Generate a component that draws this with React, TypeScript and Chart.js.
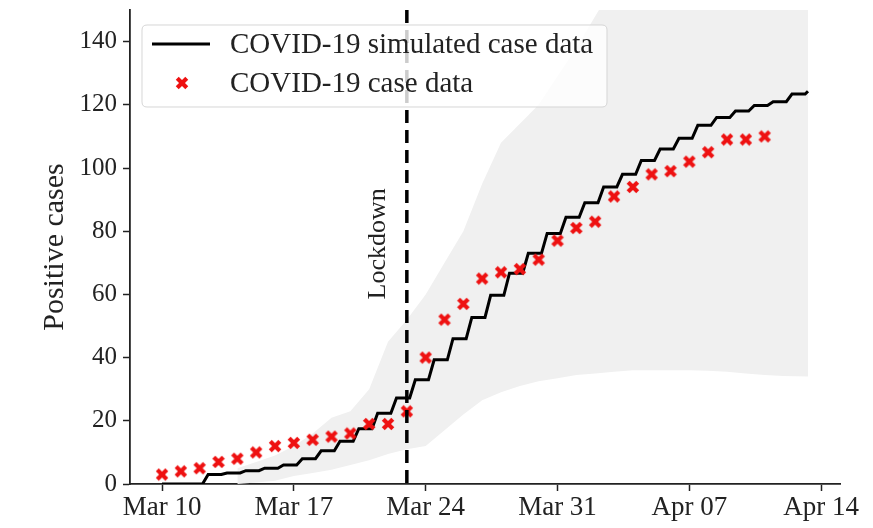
import React, { useEffect, useRef } from "react";
import { Chart, registerables } from "chart.js";

Chart.register(...registerables);

// ---- data (days counted from Mar 10) ----
const tickDays = [0, 7, 14, 21, 28, 35];
const tickLabels = ["Mar 10", "Mar 17", "Mar 24", "Mar 31", "Apr 07", "Apr 14"];
const yTickValues = [0, 20, 40, 60, 80, 100, 120, 140];

const caseDays = [0, 1, 2, 3, 4, 5, 6, 7, 8, 9, 10, 11, 12, 13, 14, 15, 16, 17, 18, 19, 20, 21, 22, 23, 24, 25, 26, 27, 28, 29, 30, 31, 32];
const caseValues = [3, 4, 5, 7, 8, 10, 12, 13, 14, 15, 16, 19, 19, 23, 40, 52, 57, 65, 67, 68, 71, 77, 81, 83, 91, 94, 98, 99, 102, 105, 109, 109, 110];

// simulated cumulative cases, one level per day
const simValues = [0, 0, 3, 3.5, 4.2, 5, 6, 8, 10.5, 13.5, 17.5, 22.4, 27.2, 33, 39.3, 46, 52.7, 59.7, 66.7, 73, 79.3, 84.4, 89, 94, 98, 102.4, 106, 109.4, 113.5, 116, 118, 119.8, 121, 123.4, 124.3];

// uncertainty band
const bandDays = [4, 5, 6, 7, 8, 9, 10, 11, 12, 13, 14, 15, 16, 17, 18, 19, 20, 21, 22, 23, 24, 25, 26, 27, 28, 29, 30, 31, 32, 33, 34.3];
const bandUpper = [5, 7, 9, 12, 16, 21, 23, 30, 45, 52, 60, 70, 80, 95, 108, 114, 120, 129, 138, 148, 158, 165, 170, 175, 180, 180, 180, 180, 180, 180, 180];
const bandLower = [0, 0.5, 1, 2.5, 3.5, 4.5, 6, 7.5, 9.5, 11, 12, 17, 22, 26.5, 29, 31, 32.5, 33.5, 34.5, 35, 35.5, 36, 36, 36, 36, 35.8, 35.5, 35, 34.5, 34.2, 34];

const lockdownDay = 13;
const lockdownLabel = "Lockdown";
const yTitle = "Positive cases";
const simLabel = "COVID-19 simulated case data";
const caseLabel = "COVID-19 case data";

const SERIF = "'Liberation Serif', 'Times New Roman', serif";

function makeXMarker(size: number, color: string): HTMLCanvasElement {
  const c = document.createElement("canvas");
  c.width = size;
  c.height = size;
  const ctx = c.getContext("2d")!;
  ctx.strokeStyle = color;
  ctx.lineWidth = size * 0.3;
  ctx.lineCap = "butt";
  const m = size * 0.16;
  ctx.beginPath();
  ctx.moveTo(m, m);
  ctx.lineTo(size - m, size - m);
  ctx.moveTo(size - m, m);
  ctx.lineTo(m, size - m);
  ctx.stroke();
  return c;
}

export default function App() {
  const ref = useRef<HTMLCanvasElement | null>(null);

  useEffect(() => {
    document.body.style.margin = "0";
    const canvas = ref.current;
    if (!canvas) return;
    const marker = makeXMarker(14, "#ee1111");

    const simPoints: { x: number; y: number }[] = [{ x: 0, y: simValues[0] }];
    for (let k = 0; k < simValues.length - 1; k++) {
      simPoints.push({ x: k + 0.45, y: simValues[k] });
      simPoints.push({ x: k + 1.15, y: simValues[k] });
    }
    simPoints.push({ x: simValues.length - 1 + 0.3, y: simValues[simValues.length - 1] });

    const casePoints = caseDays.map((d, i) => ({ x: d, y: caseValues[i] }));
    const upperPts = bandDays.map((d, i) => ({ x: d, y: bandUpper[i] }));
    const lowerPts = bandDays.map((d, i) => ({ x: d, y: bandLower[i] }));

    const lockdownPlugin = {
      id: "lockdown",
      afterDatasetsDraw(chart: any) {
        const { ctx, chartArea, scales } = chart;
        const x = scales.x.getPixelForValue(lockdownDay);
        ctx.save();
        ctx.strokeStyle = "#000";
        ctx.lineWidth = 3.5;
        ctx.setLineDash([13, 7]);
        ctx.beginPath();
        ctx.moveTo(x, chartArea.top);
        ctx.lineTo(x, chartArea.bottom);
        ctx.stroke();
        ctx.setLineDash([]);
        ctx.translate(x - 29, scales.y.getPixelForValue(76));
        ctx.rotate(-Math.PI / 2);
        ctx.font = `26px ${SERIF}`;
        ctx.fillStyle = "#222";
        ctx.textAlign = "center";
        ctx.textBaseline = "middle";
        ctx.fillText(lockdownLabel, 0, 0);
        ctx.restore();
      },
    };

    const legendPlugin = {
      id: "boxLegend",
      afterDraw(chart: any) {
        const { ctx, chartArea } = chart;
        const bx = chartArea.left + 12;
        const by = chartArea.top + 15;
        const bw = 465;
        const bh = 82;
        const r = 5;
        ctx.save();
        ctx.beginPath();
        ctx.moveTo(bx + r, by);
        ctx.lineTo(bx + bw - r, by);
        ctx.quadraticCurveTo(bx + bw, by, bx + bw, by + r);
        ctx.lineTo(bx + bw, by + bh - r);
        ctx.quadraticCurveTo(bx + bw, by + bh, bx + bw - r, by + bh);
        ctx.lineTo(bx + r, by + bh);
        ctx.quadraticCurveTo(bx, by + bh, bx, by + bh - r);
        ctx.lineTo(bx, by + r);
        ctx.quadraticCurveTo(bx, by, bx + r, by);
        ctx.closePath();
        ctx.fillStyle = "rgba(255,255,255,0.8)";
        ctx.fill();
        ctx.strokeStyle = "rgba(210,210,210,0.9)";
        ctx.lineWidth = 1;
        ctx.stroke();

        ctx.strokeStyle = "#000";
        ctx.lineWidth = 3;
        ctx.beginPath();
        ctx.moveTo(bx + 10, by + 19);
        ctx.lineTo(bx + 68, by + 19);
        ctx.stroke();
        ctx.drawImage(marker, bx + 40 - marker.width / 2, by + 58 - marker.height / 2);

        ctx.font = `29px ${SERIF}`;
        ctx.fillStyle = "#222";
        ctx.textAlign = "left";
        ctx.textBaseline = "middle";
        ctx.fillText(simLabel, bx + 88, by + 20);
        ctx.fillText(caseLabel, bx + 88, by + 59);
        ctx.restore();
      },
    };

    const chart = new Chart(canvas, {
      type: "line",
      data: {
        datasets: [
          {
            label: "band-upper",
            data: upperPts,
            borderWidth: 0,
            pointRadius: 0,
            backgroundColor: "#f0f0f0",
            fill: "+1",
            order: 3,
          },
          {
            label: "band-lower",
            data: lowerPts,
            borderWidth: 0,
            pointRadius: 0,
            fill: false,
            order: 3,
          },
          {
            label: simLabel,
            data: simPoints,
            borderColor: "#000",
            borderWidth: 3,
            pointRadius: 0,
            fill: false,
            tension: 0,
            order: 2,
          },
          {
            label: caseLabel,
            data: casePoints,
            showLine: false,
            pointStyle: marker,
            pointRadius: 7,
            order: 1,
          },
        ],
      },
      options: {
        animation: false,
        responsive: false,
        devicePixelRatio: 1,
        events: [],
        layout: { padding: { left: 0, top: 10, right: 33, bottom: 0 } },
        plugins: { legend: { display: false }, tooltip: { enabled: false } },
        scales: {
          x: {
            type: "linear",
            min: -1.7,
            max: 36.0,
            afterBuildTicks: (scale: any) => {
              scale.ticks = tickDays.map((v) => ({ value: v }));
            },
            afterFit: (scale: any) => {
              scale.height = 44;
              scale.paddingLeft = 0;
              scale.paddingRight = 0;
            },
            ticks: {
              callback: (v: any) => tickLabels[tickDays.indexOf(Number(v))] ?? "",
              font: { family: SERIF, size: 27 },
              color: "#222",
              padding: 1,
              maxRotation: 0,
              autoSkip: false,
            },
            grid: { drawOnChartArea: false, drawTicks: true, tickLength: 7, tickColor: "#222", tickWidth: 1.5 },
            border: { display: true, color: "#222", width: 1.8 },
          },
          y: {
            type: "linear",
            min: 0,
            max: 150,
            afterBuildTicks: (scale: any) => {
              scale.ticks = yTickValues.map((v) => ({ value: v }));
            },
            afterFit: (scale: any) => {
              scale.width = 130;
              scale.paddingTop = 0;
              scale.paddingBottom = 0;
            },
            ticks: {
              font: { family: SERIF, size: 25 },
              color: "#222",
              padding: 6,
            },
            grid: { drawOnChartArea: false, drawTicks: true, tickLength: 7, tickColor: "#222", tickWidth: 1.5 },
            border: { display: true, color: "#222", width: 1.8 },
            title: {
              display: true,
              text: yTitle,
              font: { family: SERIF, size: 30 },
              color: "#222",
              padding: { top: 37, bottom: 0 },
            },
          },
        },
      },
      plugins: [lockdownPlugin, legendPlugin],
    });

    return () => chart.destroy();
  }, []);

  return (
    <div style={{ width: 873, height: 528, background: "#fff" }}>
      <canvas ref={ref} width={873} height={528} style={{ display: "block" }} />
    </div>
  );
}
